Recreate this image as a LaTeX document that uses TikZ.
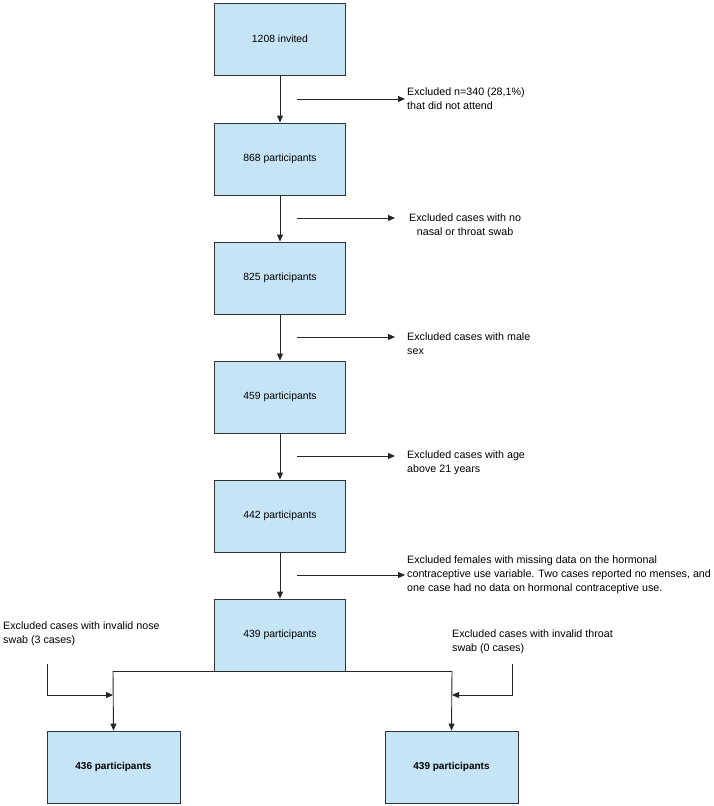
\documentclass[tikz,border=0pt]{standalone}
\usepackage{fontspec}
\setmainfont{Liberation Sans}
\usetikzlibrary{arrows.meta}
\begin{document}
\begin{tikzpicture}[x=1pt,y=-1pt,
  box/.style={draw=black!80,line width=0.9pt,fill=boxblue,minimum width=131pt,minimum height=72pt,inner sep=0pt,font=\fontsize{10.4}{12}\selectfont},
  bbox/.style={box,minimum width=133pt,font=\fontsize{10}{12}\selectfont\bfseries},
  note/.style={anchor=west,inner sep=0pt,align=left,font=\fontsize{10.7}{14}\selectfont},
  arr/.style={-{Triangle[length=7pt,width=6pt]},line width=0.9pt,black!85},
  ln/.style={line width=0.9pt,black!85}]
\definecolor{boxblue}{HTML}{C5E4F5}
\useasboundingbox (0,0) rectangle (713,806);
\node[box] (b1) at (280,39) {1208 invited};
\node[box] (b2) at (280,159) {868 participants};
\node[box] (b3) at (280,278) {825 participants};
\node[box] (b4) at (280,397) {459 participants};
\node[box] (b5) at (280,516) {442 participants};
\node[box] (b6) at (280,635) {439 participants};
\node[bbox] (b7) at (113.5,767) {436 participants};
\node[bbox] (b8) at (451.5,767) {439 participants};
\draw[arr] (b1) -- (b2);
\draw[arr] (b2) -- (b3);
\draw[arr] (b3) -- (b4);
\draw[arr] (b4) -- (b5);
\draw[arr] (b5) -- (b6);
\node[note] (t1) at (407,99) {Excluded n=340 (28,1\%)\\that did not attend};
\node[note,align=center] (t2) at (409,225) {Excluded cases with no\\nasal or throat swab};
\node[note] (t3) at (407,344) {Excluded cases with male\\sex};
\node[note] (t4) at (407,463) {Excluded cases with age\\above 21 years};
\node[note] (t5) at (407,575) {Excluded females with missing data on the hormonal\\contraceptive use variable. Two cases reported no menses, and\\one case had no data on hormonal contraceptive use.};
\coordinate (s1) at (297,99);
\coordinate (s2) at (297,218);
\coordinate (s3) at (297,337);
\coordinate (s4) at (297,456);
\coordinate (s5) at (297,575);
\draw[arr] (s1) -- ([xshift=-2pt]t1.west);
\draw[arr] (s2) -- (395,218);
\draw[arr] (s3) -- (395,337);
\draw[arr] (s4) -- (395,456);
\draw[arr] (s5) -- ([xshift=-2pt]t5.west);
\coordinate (jl) at (113,671);
\coordinate (jr) at (452,671);
\draw[ln] (jl) -- (jr);
\draw[arr] (jl) -- (b7.north);
\draw[arr] (jr) -- (b8.north);
\node[note] (tl) at (3,634) {Excluded cases with invalid nose\\swab (3 cases)};
\node[note] (tr) at (452,642) {Excluded cases with invalid throat\\swab (0 cases)};
\coordinate (cl1) at (47,664);
\coordinate (cl2) at (47,695);
\coordinate (cl3) at (113,695);
\coordinate (cr1) at (512,664);
\coordinate (cr2) at (512,695);
\coordinate (cr3) at (452,695);
\draw[arr] (cl1) -- (cl2) -- (cl3);
\draw[arr] (cr1) -- (cr2) -- (cr3);
\end{tikzpicture}
\end{document}
